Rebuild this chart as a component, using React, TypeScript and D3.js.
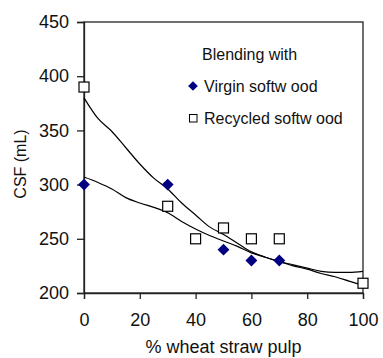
import React, { useEffect, useRef } from "react";
import * as d3 from "d3";

// measured points
const virginX = [0, 30, 50, 60, 70];
const virginY = [300, 300, 240, 230, 230];
const recycledX = [0, 30, 40, 50, 60, 70, 100];
const recycledY = [390, 280, 250, 260, 250, 250, 209];

// trend lines
const fitX = [0, 5, 10, 15, 20, 25, 30, 35, 40, 45, 50, 55, 60, 65, 70, 75, 80, 85, 90, 95, 100];
const recycledFit = [380, 361, 349, 334, 319, 306, 296, 283, 272, 261, 254, 246, 238, 233, 229, 225, 222, 218, 215, 211, 207];
const virginFit = [307, 302, 296, 288, 283, 279, 274, 266, 259, 253, 248, 243, 237, 233, 229, 226, 223, 220, 219, 219, 220];

const xTicks = [0, 20, 40, 60, 80, 100];
const yTicks = [200, 250, 300, 350, 400, 450];

const width = 383;
const height = 358;
const margin = { top: 22, right: 20, bottom: 65, left: 84 };
const font = "Arial, 'Liberation Sans', sans-serif";

function App() {
  const ref = useRef<SVGSVGElement>(null);

  useEffect(() => {
    const svg = d3.select(ref.current);
    svg.selectAll("*").remove();

    const x = d3.scaleLinear().domain([0, 100]).range([margin.left, width - margin.right]);
    const y = d3.scaleLinear().domain([200, 450]).range([height - margin.bottom, margin.top]);

    // box
    svg.append("rect")
      .attr("x", x(0))
      .attr("y", y(450))
      .attr("width", x(100) - x(0))
      .attr("height", y(200) - y(450))
      .attr("fill", "none")
      .attr("stroke", "#222")
      .attr("stroke-width", 1.3);

    const xAxis = d3.axisBottom(x).tickValues(xTicks).tickSize(6).tickPadding(14);
    const yAxis = d3.axisLeft(y).tickValues(yTicks).tickSize(7).tickPadding(8);

    svg.append("g")
      .attr("transform", `translate(0, ${y(200)})`)
      .call(xAxis);
    svg.append("g")
      .attr("transform", `translate(${x(0)}, 0)`)
      .call(yAxis);

    svg.selectAll(".domain").attr("stroke", "#222").attr("stroke-width", 1.3);
    svg.selectAll(".tick line").attr("stroke", "#222").attr("stroke-width", 1.3);
    svg.selectAll(".tick text")
      .attr("font-family", font)
      .attr("font-size", "18px")
      .attr("fill", "#111");

    // trend lines
    const line = d3.line<number>()
      .x((d, i) => x(fitX[i]))
      .y((d) => y(d))
      .curve(d3.curveMonotoneX);
    [recycledFit, virginFit].forEach((s) => {
      svg.append("path")
        .attr("d", line(s))
        .attr("fill", "none")
        .attr("stroke", "#000")
        .attr("stroke-width", 1.2);
    });

    // markers
    const diamond = d3.symbol().type(d3.symbolDiamond2).size(90);
    svg.selectAll(".virgin")
      .data(virginX)
      .enter()
      .append("path")
      .attr("class", "virgin")
      .attr("d", diamond())
      .attr("transform", (d, i) => `translate(${x(d)}, ${y(virginY[i])})`)
      .attr("fill", "#000080");

    const sq = 10;
    svg.selectAll(".recycled")
      .data(recycledX)
      .enter()
      .append("rect")
      .attr("class", "recycled")
      .attr("x", (d) => x(d) - sq / 2)
      .attr("y", (d, i) => y(recycledY[i]) - sq / 2)
      .attr("width", sq)
      .attr("height", sq)
      .attr("fill", "#fff")
      .attr("stroke", "#000")
      .attr("stroke-width", 1.2);

    // legend
    const lg = svg.append("g").attr("font-family", font).attr("font-size", "16px").attr("fill", "#111");
    lg.append("text").attr("x", 202).attr("y", 60).text("Blending with");
    lg.append("path")
      .attr("d", d3.symbol().type(d3.symbolDiamond2).size(60)())
      .attr("transform", "translate(193, 86)")
      .attr("fill", "#000080");
    lg.append("text").attr("x", 204).attr("y", 92).text("Virgin softw ood");
    lg.append("rect")
      .attr("x", 189.5).attr("y", 114.5).attr("width", 7.5).attr("height", 7.5)
      .attr("fill", "#fff").attr("stroke", "#000").attr("stroke-width", 1);
    lg.append("text").attr("x", 204).attr("y", 124).text("Recycled softw ood");

    // axis titles
    svg.append("text")
      .attr("x", (x(0) + x(100)) / 2)
      .attr("y", 353)
      .attr("text-anchor", "middle")
      .attr("font-family", font)
      .attr("font-size", "18px")
      .attr("fill", "#111")
      .text("% wheat straw pulp");
    svg.append("text")
      .attr("transform", `translate(26, 164) rotate(-90)`)
      .attr("text-anchor", "middle")
      .attr("font-family", font)
      .attr("font-size", "16px")
      .attr("fill", "#111")
      .text("CSF (mL)");
  }, []);

  return (
    <svg
      ref={ref}
      width={width}
      height={height}
      style={{ position: "absolute", left: 0, top: 0, background: "#fff" }}
    ></svg>
  );
}

export default App;
